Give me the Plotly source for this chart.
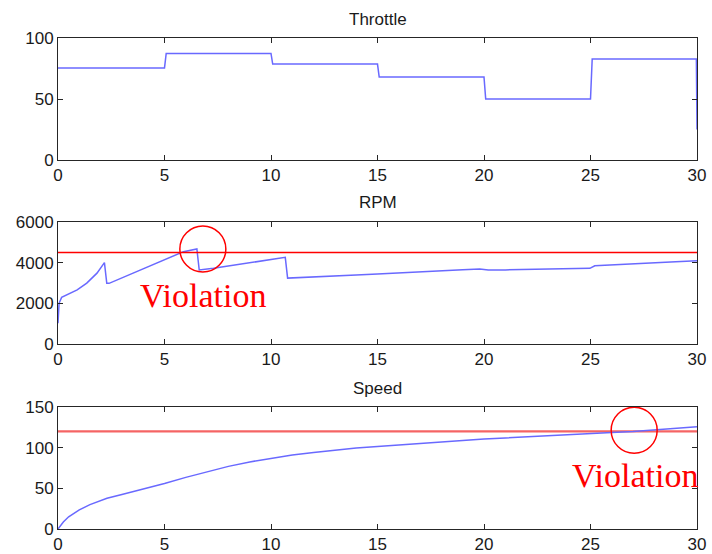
import plotly.graph_objects as go

# ---- data ----
# throttle: piecewise-constant command (percent)
throttle_switch_t = [0, 5, 10, 15, 20, 25, 30]
throttle_levels = [75.5, 87.3, 78.6, 68.0, 50.0, 82.8]
throttle_end_value = 25.0

# engine speed (rpm)
rpm_t = [0.0, 0.05, 0.17, 0.49, 0.9, 1.35, 1.83, 2.18, 2.29, 2.4, 5.89, 6.52,
         6.63, 7.3, 10.67, 10.78, 12.0, 13.0, 14.0, 15.0, 16.0, 17.0, 18.0,
         19.0, 19.8, 20.2, 21.0, 22.0, 23.0, 24.0, 24.97, 25.2, 26.0, 27.0,
         28.0, 29.0, 30.0]
rpm_v = [1018, 2000, 2295, 2459, 2663, 2992, 3485, 4000, 2983, 2983, 4541, 4672,
         3639, 3721, 4262, 3240, 3285, 3340, 3390, 3440, 3500, 3555, 3600,
         3650, 3690, 3645, 3645, 3660, 3680, 3705, 3720, 3850, 3885, 3930,
         3985, 4040, 4100]
rpm_limit = 4500

# vehicle speed
speed_t = [0, 0.25, 0.5, 1, 1.5, 2.3, 3, 4, 5, 6, 7, 8, 9, 10, 11, 12, 13, 14,
           15, 16, 17, 18, 19, 20, 21, 22, 23, 24, 25, 26, 27, 28, 29, 30]
speed_v = [0, 8.5, 15, 23.5, 30, 37.7, 42.5, 49, 56, 63.5, 70.5, 77, 82.5, 87,
           91, 94, 97, 99.5, 101.5, 103.5, 105.5, 107.5, 109, 110.7, 112, 113.5,
           115, 116.3, 117.6, 118.8, 120, 121.8, 123.8, 125.8]
speed_limit = 120

# highlighted violations: (t, value) centres
rpm_violation = (6.8, 4672)
speed_violation = (27.05, 121.4)

# ---- build throttle step trace ----
ramp = 0.08
thr_x, thr_y = [], []
for i, lvl in enumerate(throttle_levels):
    t0, t1 = throttle_switch_t[i], throttle_switch_t[i + 1]
    thr_x += [t0 + (ramp if i > 0 else 0), t1]
    thr_y += [lvl, lvl]
thr_x[-1] = 30 - 0.03
thr_x.append(30)
thr_y.append(throttle_end_value)

BLUE = "rgb(105,105,255)"
RED = "rgb(255,0,0)"
SPEED_RED = "rgb(245,100,100)"

fig = go.Figure()
fig.add_trace(go.Scatter(x=thr_x, y=thr_y, mode="lines",
                         line=dict(color=BLUE, width=1.5), xaxis="x", yaxis="y"))
fig.add_trace(go.Scatter(x=rpm_t, y=rpm_v, mode="lines",
                         line=dict(color=BLUE, width=1.5), xaxis="x2", yaxis="y2"))
fig.add_trace(go.Scatter(x=[0, 30], y=[rpm_limit, rpm_limit], mode="lines",
                         line=dict(color=RED, width=1.5), xaxis="x2", yaxis="y2"))
fig.add_trace(go.Scatter(x=[0, 30], y=[speed_limit, speed_limit], mode="lines",
                         line=dict(color=SPEED_RED, width=2.2), xaxis="x3", yaxis="y3"))
fig.add_trace(go.Scatter(x=speed_t, y=speed_v, mode="lines",
                         line=dict(color=BLUE, width=1.5), xaxis="x3", yaxis="y3"))

# plot-area geometry (paper fractions)
H_PLOT = 491.0
dom_thr = [369 / H_PLOT, 1.0]
dom_rpm = [185 / H_PLOT, 307 / H_PLOT]
dom_spd = [0.0, 122 / H_PLOT]

tickfont = dict(family="Liberation Sans, Arial, sans-serif", size=17, color="#1a1a1a")
axis_common = dict(showgrid=False, zeroline=False, showline=True, linecolor="#262626",
                   linewidth=1, mirror="ticks", ticks="inside", ticklen=5,
                   tickcolor="#262626", tickfont=tickfont, automargin=False)

def xaxis(anchor):
    return dict(axis_common, range=[0, 30], tickmode="array",
                tickvals=[0, 5, 10, 15, 20, 25, 30], anchor=anchor, domain=[0, 1])

fig.update_layout(
    width=712, height=554,
    margin=dict(l=58, r=15, t=38, b=25, autoexpand=False),
    paper_bgcolor="white", plot_bgcolor="white",
    showlegend=False,
    xaxis=xaxis("y"),
    xaxis2=xaxis("y2"),
    xaxis3=xaxis("y3"),
    yaxis=dict(axis_common, range=[0, 100], tickvals=[0, 50, 100], domain=dom_thr, anchor="x"),
    yaxis2=dict(axis_common, range=[0, 6000], tickvals=[0, 2000, 4000, 6000], domain=dom_rpm, anchor="x2"),
    yaxis3=dict(axis_common, range=[0, 150], tickvals=[0, 50, 100, 150], domain=dom_spd, anchor="x3"),
)

# panel titles
titlefont = dict(family="Liberation Sans, Arial, sans-serif", size=17, color="#1a1a1a")
for name, dom in [("Throttle", dom_thr), ("RPM", dom_rpm), ("Speed", dom_spd)]:
    fig.add_annotation(text=name, xref="paper", yref="paper", x=0.5, y=dom[1],
                       yshift=19, showarrow=False, font=titlefont,
                       xanchor="center", yanchor="middle")

# violation circles (radius ~23 px in each panel)
rx = 1.08
fig.add_shape(type="circle", xref="x2", yref="y2",
              x0=rpm_violation[0] - rx, x1=rpm_violation[0] + rx,
              y0=rpm_violation[1] - 1131, y1=rpm_violation[1] + 1131,
              line=dict(color=RED, width=1.5))
fig.add_shape(type="circle", xref="x3", yref="y3",
              x0=speed_violation[0] - rx, x1=speed_violation[0] + rx,
              y0=speed_violation[1] - 28.3, y1=speed_violation[1] + 28.3,
              line=dict(color=RED, width=1.5))

vfont = dict(family="Liberation Serif, Times New Roman, serif", size=34, color="red")
fig.add_annotation(text="Violation", xref="x2", yref="y2", x=6.81, y=2361,
                   showarrow=False, font=vfont, xanchor="center", yanchor="middle")
fig.add_annotation(text="Violation", xref="x3", yref="y3", x=27.07, y=65.2,
                   showarrow=False, font=vfont, xanchor="center", yanchor="middle")

fig.write_html("out.html")
